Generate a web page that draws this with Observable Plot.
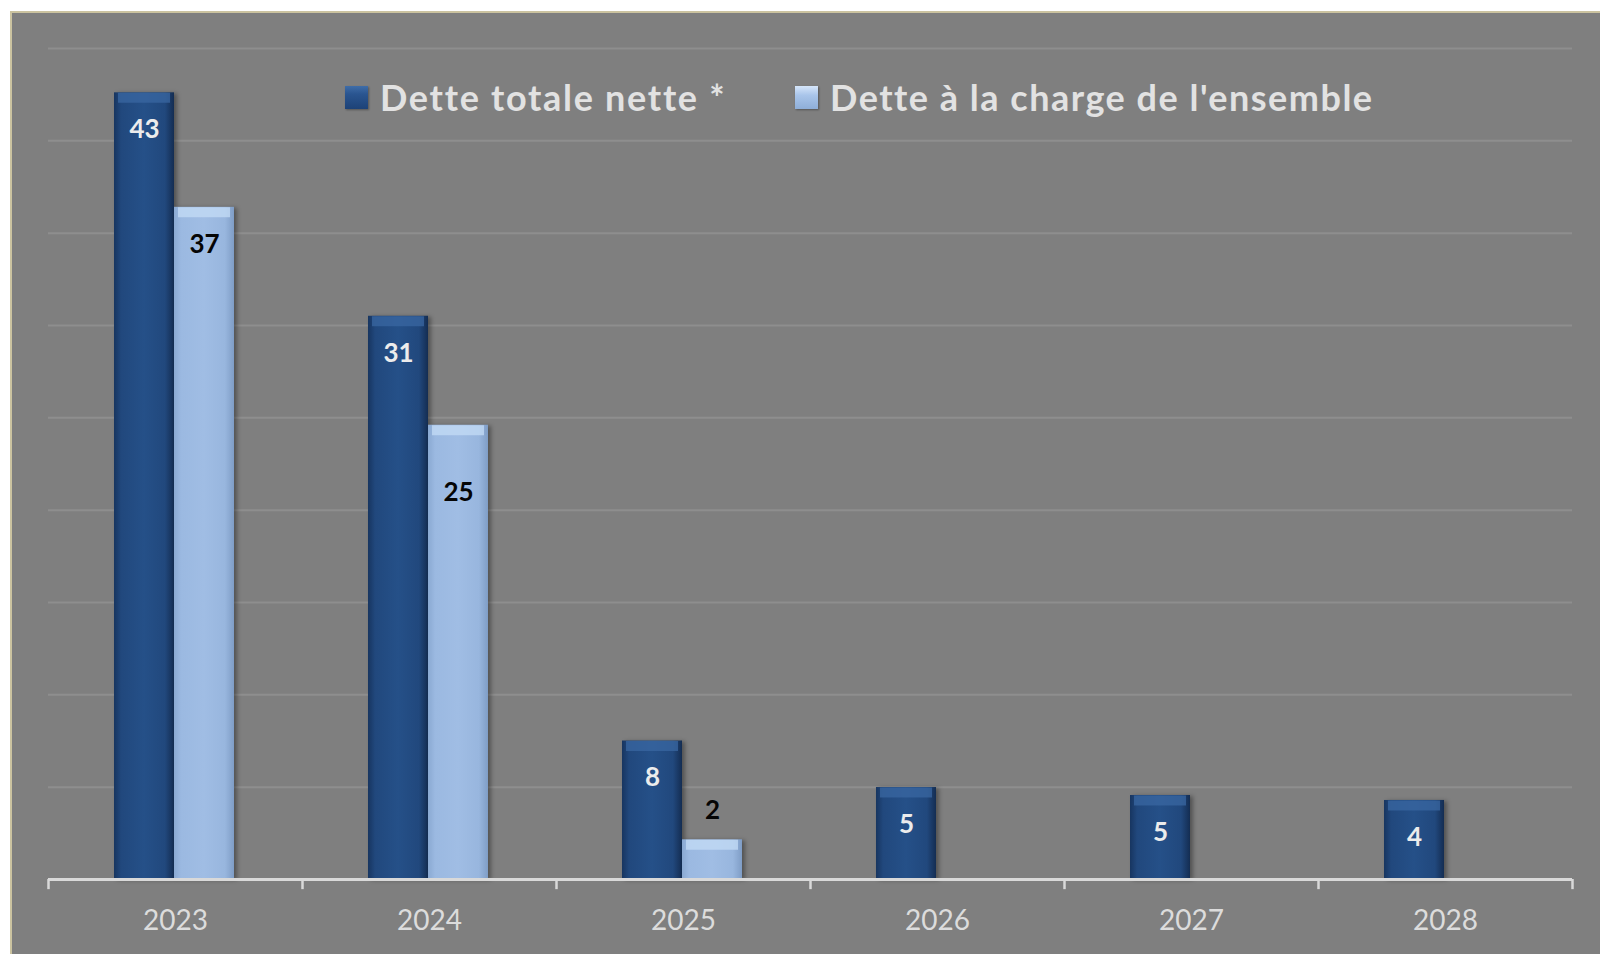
<!DOCTYPE html>
<html><head><meta charset="utf-8">
<script src="https://cdn.jsdelivr.net/npm/d3@7"></script>
<script src="https://cdn.jsdelivr.net/npm/@observablehq/plot@0.6"></script>
<style>
html,body{margin:0;padding:0;background:#fff;width:1600px;height:954px;overflow:hidden;}
#panel{position:absolute;left:10px;top:11px;width:1600px;height:960px;background:#7f7f7f;border-left:2px solid #cbc3a0;border-top:2px solid #cbc3a0;box-sizing:border-box;}
#chart{position:absolute;left:0;top:0;}
#legend{position:absolute;left:0;top:0;font-family:Lato,"Noto Sans",sans-serif;font-weight:bold;font-size:36px;color:#e2e2e2;}
.item{position:absolute;top:75px;height:44px;display:flex;align-items:center;white-space:nowrap;}
.sw{width:23px;height:23px;margin-right:12px;box-shadow:1px 1px 2px rgba(0,0,0,.35);flex:none;}
svg g[aria-label="bar"] rect{filter:drop-shadow(3px 1px 2px rgba(0,0,0,.35));}
</style></head><body>
<div id="panel"></div><div id="chart"></div><div id="legend"></div>
<script>
const years = ["2023","2024","2025","2026","2027","2028"];
const detteTotale = [42.6, 30.5, 7.5, 4.98, 4.55, 4.28];
const detteCharge = [36.4, 24.6, 2.15, null, null, null];
const labelsTotale = ["43","31","8","5","5","4"];
const labelsCharge = ["37","25","2",null,null,null];
const seriesNames = ["Dette totale nette *", "Dette à la charge de l'ensemble"];
const gridValues = [5,10,15,20,25,30,35,40,45];

const rowsT = years.map((y,i)=>({year:y, value:detteTotale[i], label:labelsTotale[i]})).filter(d=>d.value!=null);
const rowsC = years.map((y,i)=>({year:y, value:detteCharge[i], label:labelsCharge[i]})).filter(d=>d.value!=null);

const W=1600, H=954, mL=48, mR=28, mT=48, mB=75;
const half = (W-mL-mR)/years.length/2;
const dxT = -31, dxC = 29;

function defs(){
  const d = d3.create("svg:defs");
  const g1 = d.append("linearGradient").attr("id","gDark").attr("x1","0").attr("x2","1").attr("y1","0").attr("y2","0");
  [["0%","#173560"],["12%","#21487d"],["50%","#255088"],["85%","#21487d"],["100%","#142d52"]].forEach(([o,c])=>g1.append("stop").attr("offset",o).attr("stop-color",c));
  const g2 = d.append("linearGradient").attr("id","gLight").attr("x1","0").attr("x2","1").attr("y1","0").attr("y2","0");
  [["0%","#8aa9d2"],["12%","#9bb9e1"],["50%","#a0bde4"],["85%","#98b6de"],["100%","#7f9dc6"]].forEach(([o,c])=>g2.append("stop").attr("offset",o).attr("stop-color",c));
  return d.node();
}

const lab = {fontFamily:"Lato", fontWeight:"bold", fontSize:26};
const plot = Plot.plot({
  width:W, height:H, marginLeft:mL, marginRight:mR, marginTop:mT, marginBottom:mB,
  style:{background:"transparent", fontFamily:"Lato", overflow:"visible"},
  x:{domain:years, paddingInner:0.763, paddingOuter:0.3815, label:null},
  y:{domain:[0,45], axis:null},
  marks:[
    defs,
    Plot.ruleY(gridValues,{stroke:"#8e8e8e", strokeWidth:2}),
    Plot.barY(rowsT,{x:"year", y:"value", dx:dxT, fill:"url(#gDark)"}),
    Plot.barY(rowsC,{x:"year", y:"value", dx:dxC, fill:"url(#gLight)"}),
    Plot.tickY(rowsT,{x:"year", y:"value", dx:dxT, dy:5, stroke:"#3a67a2", strokeWidth:10, insetLeft:4, insetRight:4, strokeOpacity:0.75}),
    Plot.tickY(rowsC,{x:"year", y:"value", dx:dxC, dy:5, stroke:"#c4dcf6", strokeWidth:10, insetLeft:4, insetRight:4, strokeOpacity:0.75}),
    Plot.ruleY([0],{stroke:"#d9d9d9", strokeWidth:3}),
    Plot.ruleX(years,{x:d=>d, dx:-half, y1:0, y2:-0.55, stroke:"#d9d9d9", strokeWidth:2.5}),
    Plot.ruleX([years[years.length-1]],{x:d=>d, dx:half, y1:0, y2:-0.55, stroke:"#d9d9d9", strokeWidth:2.5}),
    Plot.axisX({tickSize:0, tickPadding:31, fontSize:28, fill:"#dcdcdc", label:null}),
    Plot.text(rowsT,{x:"year", y:"value", text:"label", dx:dxT, dy:37, fill:"#ececec", ...lab}),
    Plot.text(rowsC.filter(d=>d.value>=30),{x:"year", y:"value", text:"label", dx:dxC, dy:37, fill:"#050505", ...lab}),
    Plot.text(rowsC.filter(d=>d.value>=10 && d.value<30),{x:"year", y:"value", text:"label", dx:dxC, dy:67, fill:"#050505", ...lab}),
    Plot.text(rowsC.filter(d=>d.value<10),{x:"year", y:"value", text:"label", dx:dxC, dy:-29, fill:"#050505", ...lab})
  ]
});
document.getElementById("chart").appendChild(plot);

const legend = document.getElementById("legend");
const swatches = ["linear-gradient(180deg,#3f6da8 0%,#2a5590 35%,#1d4277 100%)","linear-gradient(180deg,#d6e6fa 0%,#a9c5ea 40%,#8eaed8 100%)"];
const lefts = [345, 795];
const spacing = ["1.7px","1.5px"];
seriesNames.forEach((n,i)=>{
  const it = document.createElement("div"); it.className="item"; it.style.left=lefts[i]+"px";
  const sw = document.createElement("div"); sw.className="sw"; sw.style.background=swatches[i];
  const t = document.createElement("span"); t.textContent=n; t.style.letterSpacing=spacing[i];
  it.appendChild(sw); it.appendChild(t); legend.appendChild(it);
});
</script>
</body></html>
